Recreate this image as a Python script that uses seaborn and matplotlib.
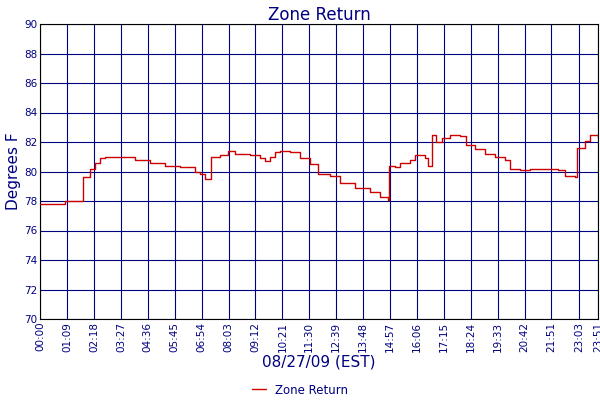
import matplotlib
matplotlib.use("Agg")
import matplotlib.pyplot as plt
import seaborn as sns
import pandas as pd

minutes = [0, 64, 108, 110, 128, 141, 154, 167, 218, 244, 282, 321, 359, 397, 410, 423, 436, 439, 462, 482, 500, 539, 564, 577, 590, 603, 615, 641, 667, 692, 713, 744, 769, 808, 846, 872, 892, 895, 910, 923, 949, 962, 987, 995, 1005, 1016, 1031, 1051, 1077, 1092, 1116, 1141, 1167, 1192, 1205, 1231, 1257, 1295, 1328, 1346, 1372, 1377, 1398, 1410, 1431]
temps = [77.8, 78.0, 78.0, 79.6, 80.2, 80.6, 80.9, 81.0, 81.0, 80.8, 80.6, 80.4, 80.3, 80.0, 79.8, 79.5, 79.5, 81.0, 81.1, 81.4, 81.2, 81.1, 80.9, 80.7, 81.0, 81.3, 81.4, 81.3, 80.9, 80.5, 79.8, 79.7, 79.2, 78.9, 78.6, 78.3, 78.1, 80.4, 80.3, 80.6, 80.8, 81.1, 80.9, 80.4, 82.5, 82.0, 82.3, 82.5, 82.4, 81.8, 81.5, 81.2, 81.0, 80.8, 80.2, 80.1, 80.2, 80.2, 80.1, 79.7, 79.6, 81.6, 82.1, 82.5, 82.3]
tick_minutes = list(range(0, 1380, 69)) + [1383, 1431]
tick_labels = ["00:00","01:09","02:18","03:27","04:36","05:45","06:54","08:03","09:12","10:21","11:30","12:39","13:48","14:57","16:06","17:15","18:24","19:33","20:42","21:51","23:03","23:51"]
y_ticks = list(range(70, 91, 2))

navy = "#000080"
sns.set_style("white")
fig, ax = plt.subplots(figsize=(6, 4), dpi=100)
fig.subplots_adjust(left=0.067, right=0.997, top=0.94, bottom=0.2025)
df = pd.DataFrame({"m": minutes, "t": temps})
sns.lineplot(data=df, x="m", y="t", ax=ax, color="#cc0000", lw=1,
             drawstyle="steps-post", label="Zone Return", zorder=3)
ax.set_xlim(0, 1431)
ax.set_ylim(70, 90)
ax.set_xticks(tick_minutes)
ax.set_xticklabels(tick_labels, rotation=90, fontsize=7.5, color=navy)
ax.set_yticks(y_ticks)
ax.set_yticklabels([str(v) for v in y_ticks], fontsize=7.5, color=navy)
ax.grid(True, color=navy, lw=0.8)
ax.set_axisbelow(True)
for s in ax.spines.values():
    s.set_color("black")
ax.tick_params(length=0, pad=2)
ax.set_title("Zone Return", color=navy, fontsize=12, pad=3)
ax.set_xlabel("08/27/09 (EST)", color=navy, fontsize=11, labelpad=2)
ax.set_ylabel("Degrees F", color=navy, fontsize=11, labelpad=2)
ax.get_legend().remove()
h, l = ax.get_legend_handles_labels()
fig.legend(h, l, loc="center", bbox_to_anchor=(0.5, 0.025), frameon=False,
           fontsize=8.5, handlelength=1.2, labelcolor=navy, borderpad=0)
fig.savefig("out.png")
